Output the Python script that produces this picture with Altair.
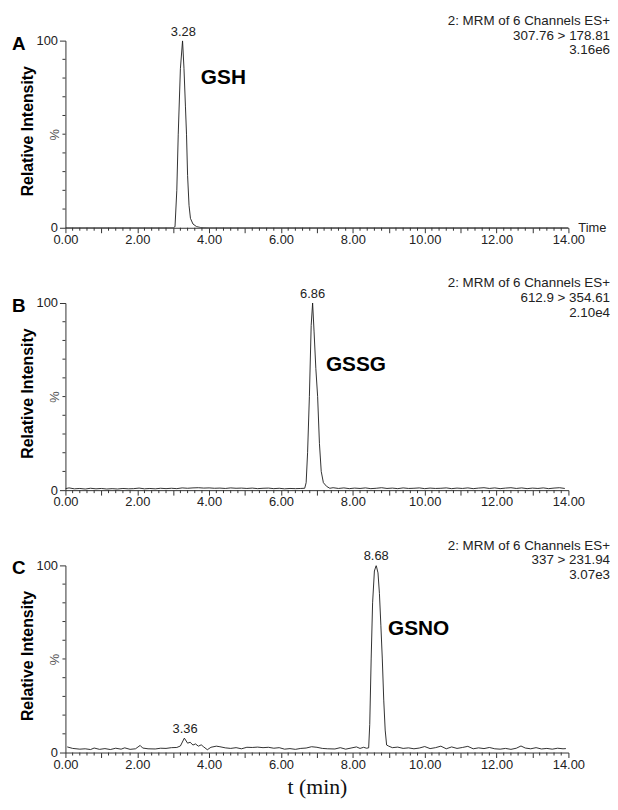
import altair as alt
import pandas as pd

FONT = "Liberation Sans"
TXT = "#222222"
AX = "#333333"

# ---------------- data ----------------
# Panel A: GSH
a_t = [0.0, 3.00, 3.05, 3.10, 3.14, 3.20, 3.26, 3.30, 3.34, 3.37, 3.40, 3.44, 3.48, 3.55, 3.65, 3.77, 4.0, 14.0]
a_v = [0.0, 0.0, 0.5, 20, 50, 85, 100, 85, 65, 50, 28, 12, 5, 2, 0.6, 0.1, 0.0, 0.0]

# Panel B: GSSG
b_t = [0.0, 0.1, 0.25, 0.4, 0.55, 0.7, 0.85, 1.0, 1.15, 1.3, 1.45, 1.6, 1.75, 1.9, 2.05, 2.2, 2.35, 2.5,
       2.65, 2.8, 2.95, 3.1, 3.25, 3.4, 3.55, 3.7, 3.85, 4.0, 4.15, 4.3, 4.45, 4.6, 4.75, 4.9, 5.05, 5.2,
       5.35, 5.5, 5.65, 5.8, 5.95, 6.1, 6.25, 6.4, 6.55, 6.66, 6.70, 6.74, 6.79, 6.84, 6.88, 6.92, 6.97,
       7.02, 7.07, 7.12, 7.18, 7.27, 7.36, 7.45, 7.6, 7.75, 7.9, 8.05, 8.2, 8.35, 8.5, 8.65, 8.8, 8.95,
       9.1, 9.25, 9.4, 9.55, 9.7, 9.85, 10.0, 10.15, 10.3, 10.45, 10.6, 10.75, 10.9, 11.05, 11.2, 11.35,
       11.5, 11.65, 11.8, 11.95, 12.1, 12.25, 12.4, 12.55, 12.7, 12.85, 13.0, 13.15, 13.3, 13.45, 13.6,
       13.75, 13.9]
b_v = [0.8, 1.2, 0.7, 0.9, 0.6, 1.0, 0.7, 0.9, 0.6, 0.8, 0.6, 0.9, 0.7, 0.8, 1.1, 0.7, 0.9, 0.7,
       1.0, 0.8, 1.0, 0.8, 1.2, 1.0, 1.2, 1.3, 1.1, 1.2, 1.0, 1.1, 0.9, 1.2, 1.0, 1.1, 0.9, 1.1,
       0.8, 1.0, 1.1, 0.8, 1.0, 0.7, 0.9, 0.8, 0.9, 1.0, 4, 20, 50, 88, 100, 85, 65,
       50, 25, 10, 4, 2, 1.0, 1.3, 0.9, 1.2, 0.8, 1.1, 0.9, 1.2, 0.8, 1.0, 1.3, 0.9,
       1.1, 0.8, 1.2, 0.9, 1.0, 1.2, 0.8, 1.1, 0.9, 1.0, 1.2, 0.8, 1.1, 0.9, 1.2, 0.8,
       1.1, 1.3, 0.9, 1.2, 0.8, 1.1, 1.3, 0.9, 1.2, 0.8, 1.1, 0.9, 1.2, 0.8, 1.1,
       1.3, 0.9]

# Panel C: GSNO
c_t = [0.05, 0.2, 0.4, 0.55, 0.7, 0.8, 0.95, 1.1, 1.25, 1.4, 1.55, 1.65, 1.8, 1.95, 2.08, 2.15, 2.3,
       2.5, 2.65, 2.8, 2.95, 3.1, 3.2, 3.31, 3.4, 3.47, 3.55, 3.62, 3.7, 3.78, 3.85, 3.95, 4.05, 4.2,
       4.3, 4.45, 4.6, 4.75, 4.9, 5.05, 5.2, 5.35, 5.5, 5.65, 5.8, 5.95, 6.1, 6.25, 6.4, 6.55, 6.7,
       6.85, 7.0, 7.15, 7.3, 7.5, 7.65, 7.8, 7.95, 8.1, 8.2, 8.3, 8.38, 8.44, 8.47, 8.51, 8.55, 8.60,
       8.65, 8.70, 8.74, 8.78, 8.82, 8.86, 8.90, 8.94, 9.0, 9.1, 9.25, 9.4, 9.55, 9.7, 9.85, 10.0,
       10.15, 10.3, 10.45, 10.6, 10.75, 10.9, 11.05, 11.2, 11.35, 11.5, 11.65, 11.8, 11.95, 12.1,
       12.25, 12.4, 12.55, 12.68, 12.8, 12.95, 13.1, 13.25, 13.4, 13.55, 13.7, 13.85, 13.93]
c_v = [3.0, 2.2, 1.8, 2.0, 1.6, 2.4, 1.7, 2.1, 1.6, 2.3, 1.8, 2.5, 1.7, 2.0, 3.8, 2.4, 2.0,
       1.9, 2.3, 2.2, 2.6, 2.7, 3.5, 7.7, 5.0, 5.5, 4.0, 4.6, 3.4, 4.1, 3.0, 1.5, 2.8, 3.4,
       3.1, 2.5, 2.2, 2.6, 2.0, 2.8, 2.7, 2.9, 2.6, 2.8, 2.3, 2.6, 1.8, 2.1, 1.7, 2.2, 2.4,
       3.1, 2.8, 2.2, 2.0, 1.9, 2.6, 1.8, 2.4, 3.0, 2.2, 2.8, 2.3, 2.5, 15, 50, 80, 97,
       100, 96, 85, 68, 50, 28, 12, 4, 3.4, 2.6, 2.9, 2.2, 2.5, 2.0, 2.4, 3.2,
       2.1, 2.6, 3.4, 2.0, 3.0, 2.2, 2.7, 3.3, 2.0, 2.5, 2.1, 2.7, 2.0, 1.8,
       2.2, 1.7, 2.3, 3.5, 2.4, 2.0, 2.6, 1.9, 2.2, 1.8, 2.3, 2.0, 2.1]

letters = ["A", "B", "C"]
headers = [
    ["2: MRM of 6 Channels ES+", "307.76 > 178.81", "3.16e6"],
    ["2: MRM of 6 Channels ES+", "612.9 > 354.61", "2.10e4"],
    ["2: MRM of 6 Channels ES+", "337 > 231.94", "3.07e3"],
]
peak_labels = [
    [("3.28", 3.28, 100)],
    [("6.86", 6.88, 100)],
    [("8.68", 8.65, 100), ("3.36", 3.33, 7.7)],
]
compounds = [("GSH", 3.77, 80), ("GSSG", 7.25, 67), ("GSNO", 8.98, 66)]

x_major = [0, 1, 2, 3, 4, 5, 6, 7, 8, 9, 10, 11, 12, 13, 14]
x_minor = [round(0.2 * i, 1) for i in range(71) if i % 5 != 0]
y_major = [0, 100]
y_minor = [10, 20, 30, 40, 50, 60, 70, 80, 90]

W = 508
H = 189
XS = alt.Scale(domain=[0, 14], nice=False, zero=False)
YS = alt.Scale(domain=[0, 100], nice=False)


def panel(i, t, v, last):
    df = pd.DataFrame({"t": t, "v": v})
    xaxis = alt.Axis(
        values=x_major,
        labelExpr="datum.value % 2 === 0 ? format(datum.value, '.2f') : ''",
        labelOverlap=False,
        labelFlush=False,
        labelFont=FONT,
        labelFontSize=13,
        labelColor=TXT,
        labelPadding=1,
        tickSize=5,
        tickColor=AX,
        domainColor=AX,
        grid=False,
        titleFont="Liberation Serif",
        titleFontSize=22,
        titleFontWeight="normal",
        titleColor="#111111",
        titlePadding=5,
    )
    yaxis = alt.Axis(
        values=y_major,
        labelOverlap=False,
        labelFont=FONT,
        labelFontSize=13,
        labelColor=TXT,
        labelPadding=2,
        tickSize=6,
        tickColor=AX,
        domainColor=AX,
        grid=False,
        title="%",
        titleFont=FONT,
        titleFontSize=13,
        titleFontWeight="normal",
        titleColor="#555555",
        titleX=-4,
        titleY=H / 2,
        titleAngle=270,
        titleBaseline="bottom",
        titleAlign="center",
    )
    if last:
        xenc = alt.X("t:Q", scale=XS, axis=xaxis, title="t (min)")
    else:
        xenc = alt.X("t:Q", scale=XS, axis=xaxis, title=None)
    yenc = alt.Y("v:Q", scale=YS, axis=yaxis)

    line = alt.Chart(df).mark_line(color="#1a1a1a", strokeWidth=0.9, clip=True).encode(x=xenc, y=yenc)

    xt = alt.Chart(pd.DataFrame({"t": x_minor})).mark_rule(color=AX, strokeWidth=1).encode(
        x=xenc, y=alt.value(H), y2=alt.value(H + 3))
    yt = alt.Chart(pd.DataFrame({"v": y_minor})).mark_rule(color=AX, strokeWidth=1).encode(
        y=yenc, x=alt.value(0), x2=alt.value(-3))

    pk = pd.DataFrame([{"s": s, "t": x, "v": y} for s, x, y in peak_labels[i]])
    peak = alt.Chart(pk).mark_text(font=FONT, fontSize=13, color=TXT, baseline="bottom", dy=-2).encode(
        x=xenc, y=yenc, text="s:N")

    name, ct, cv = compounds[i]
    comp = alt.Chart(pd.DataFrame({"s": [name], "t": [ct], "v": [cv]})).mark_text(
        font=FONT, fontSize=21, fontWeight="bold", color="black", align="left", baseline="middle"
    ).encode(x=xenc, y=yenc, text="s:N")

    hdr = alt.Chart(pd.DataFrame({"s": ["\n".join(headers[i])], "t": [14], "v": [100]})).mark_text(
        font=FONT, fontSize=13.5, color=TXT, align="right", baseline="top", dx=42, dy=-27,
        lineBreak="\n", lineHeight=15
    ).encode(x=xenc, y=yenc, text="s:N")

    one = pd.DataFrame({"a": [0]})
    let = alt.Chart(one).mark_text(
        text=letters[i], font=FONT, fontSize=19, fontWeight="bold", color="black", align="left", baseline="middle"
    ).encode(x=alt.value(-54), y=alt.value(3))
    rel = alt.Chart(one).mark_text(
        text="Relative Intensity", font=FONT, fontSize=16, fontWeight="bold", color="black",
        angle=270, align="center", baseline="middle"
    ).encode(x=alt.value(-38), y=alt.value(H / 2 - 3))

    layers = [line, xt, yt, peak, comp, hdr, let, rel]
    if i == 0:
        tm = alt.Chart(pd.DataFrame({"s": ["Time"], "t": [14], "v": [0]})).mark_text(
            font=FONT, fontSize=13, color=TXT, align="left", baseline="middle", dx=10, dy=0
        ).encode(x=xenc, y=yenc, text="s:N")
        layers.append(tm)
    return alt.layer(*layers).properties(width=W, height=H)


pA = panel(0, a_t, a_v, False)
pB = panel(1, b_t, b_v, False)
pC = panel(2, c_t, c_v, True)

chart = alt.vconcat(pA, pB, pC, spacing=76, bounds="flush").properties(
    padding={"left": 4, "right": 0, "top": 2, "bottom": 0},
    background="white",
).configure_view(stroke=None).configure_axis(grid=False)

chart.save("out.html", embed_options={"renderer": "svg", "actions": False})
